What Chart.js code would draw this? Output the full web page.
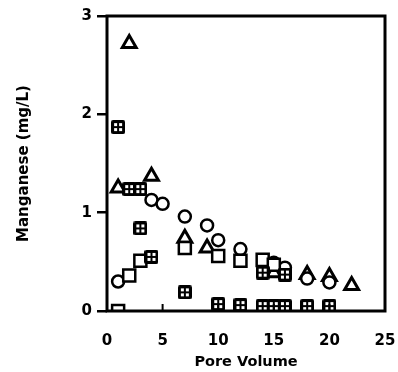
<!DOCTYPE html>
<html>
<head>
<meta charset="utf-8">
<script src="https://cdn.jsdelivr.net/npm/chart.js@4/dist/chart.umd.min.js"></script>
<style>
  html, body { margin: 0; padding: 0; background: #fff; }
  #wrap { width: 398px; height: 372px; }
</style>
</head>
<body>
<div id="wrap"><canvas id="c" width="398" height="372"></canvas></div>
<script>
// Manganese concentration in column effluent vs. pore volumes
const xTicks = [0, 5, 10, 15, 20, 25];
const yTicks = [0, 1, 2, 3];

const triangleX = [1, 2, 4, 7, 9, 15, 18, 20, 22];
const triangleY = [1.25, 2.72, 1.37, 0.74, 0.64, 0.39, 0.37, 0.35, 0.26];

const circleX = [1, 4, 5, 7, 9, 10, 12, 15, 16, 18, 20];
const circleY = [0.30, 1.13, 1.09, 0.96, 0.87, 0.72, 0.63, 0.49, 0.44, 0.33, 0.29];

const squareX = [1, 2, 3, 7, 10, 12, 14, 15];
const squareY = [0.00, 0.36, 0.51, 0.64, 0.56, 0.51, 0.52, 0.47];

const gridSqX = [1, 2, 3, 3, 4, 7, 10, 12, 14, 14, 15, 16, 16, 18, 20];
const gridSqY = [1.87, 1.24, 1.24, 0.84, 0.55, 0.19, 0.07, 0.06, 0.05, 0.39, 0.05, 0.37, 0.05, 0.05, 0.05];

const pts = (xs, ys) => xs.map((x, i) => ({ x: x, y: ys[i] }));

// Black square with a 2x2 grid of white holes
function makeGridSquare() {
  const s = 14;
  const cv = document.createElement('canvas');
  cv.width = s; cv.height = s;
  const g = cv.getContext('2d');
  g.fillStyle = '#000';
  g.beginPath();
  g.roundRect(0, 0, s, s, 2);
  g.fill();
  g.fillStyle = '#fff';
  [[3, 3], [8, 3], [3, 8], [8, 8]].forEach(p => g.fillRect(p[0], p[1], 3, 3));
  return cv;
}
const gridSquare = makeGridSquare();

// Frame around the plot and inward x tick marks
const framePlugin = {
  id: 'frame',
  afterDatasetsDraw(chart) {
    const { ctx, chartArea: a, scales } = chart;
    ctx.save();
    ctx.strokeStyle = '#000';
    ctx.lineWidth = 3;
    ctx.strokeRect(a.left, a.top, a.right - a.left, a.bottom - a.top);
    ctx.lineWidth = 2;
    scales.x.ticks.forEach(t => {
      const px = scales.x.getPixelForValue(t.value);
      ctx.beginPath();
      ctx.moveTo(px, a.bottom);
      ctx.lineTo(px, a.bottom - 7);
      ctx.stroke();
    });
    ctx.restore();
  }
};

const tickFont = { family: 'DejaVu Sans', size: 15, weight: 'bold' };

new Chart(document.getElementById('c'), {
  type: 'scatter',
  data: {
    datasets: [
      {
        data: pts(gridSqX, gridSqY),
        pointStyle: gridSquare
      },
      {
        data: pts(squareX, squareY),
        pointStyle: 'rect',
        pointRadius: 8.5,
        borderWidth: 2.5,
        borderColor: '#000',
        backgroundColor: '#fff'
      },
      {
        data: pts(circleX, circleY),
        pointStyle: 'circle',
        pointRadius: 6,
        borderWidth: 2.5,
        borderColor: '#000',
        backgroundColor: '#fff'
      },
      {
        data: pts(triangleX, triangleY),
        pointStyle: 'triangle',
        pointRadius: 8,
        borderWidth: 3,
        borderColor: '#000',
        backgroundColor: '#fff'
      }
    ]
  },
  options: {
    responsive: false,
    animation: false,
    events: [],
    layout: { padding: { top: 16, right: 13, left: 0, bottom: 0 } },
    plugins: { legend: { display: false }, tooltip: { enabled: false } },
    scales: {
      x: {
        type: 'linear',
        min: 0, max: 25,
        afterBuildTicks(scale) { scale.ticks = xTicks.map(v => ({ value: v })); },
        afterFit(scale) {
          scale.height = 61;
          scale.paddingLeft = 0;
          scale.paddingRight = 0;
        },
        border: { display: false },
        grid: { display: false, drawTicks: false },
        ticks: { color: '#000', font: tickFont, padding: 21, maxRotation: 0 },
        title: {
          display: true, text: 'Pore Volume', color: '#000',
          font: { family: 'DejaVu Sans', size: 14.5, weight: 'bold' },
          padding: { top: 0, bottom: 1 }
        }
      },
      y: {
        type: 'linear',
        min: 0, max: 3,
        afterBuildTicks(scale) { scale.ticks = yTicks.map(v => ({ value: v })); },
        afterFit(scale) {
          scale.width = 107;
          scale.paddingTop = 0;
          scale.paddingBottom = 0;
        },
        border: { display: false },
        grid: {
          drawOnChartArea: false, drawTicks: true, tickLength: 10,
          lineWidth: 2.5, color: '#000'
        },
        ticks: { color: '#000', font: tickFont, padding: 5 },
        title: {
          display: true, text: 'Manganese (mg/L)', color: '#000',
          font: { family: 'DejaVu Sans', size: 15, weight: 'bold' },
          padding: { top: 15, bottom: 0 }
        }
      }
    }
  },
  plugins: [framePlugin]
});
</script>
</body>
</html>
